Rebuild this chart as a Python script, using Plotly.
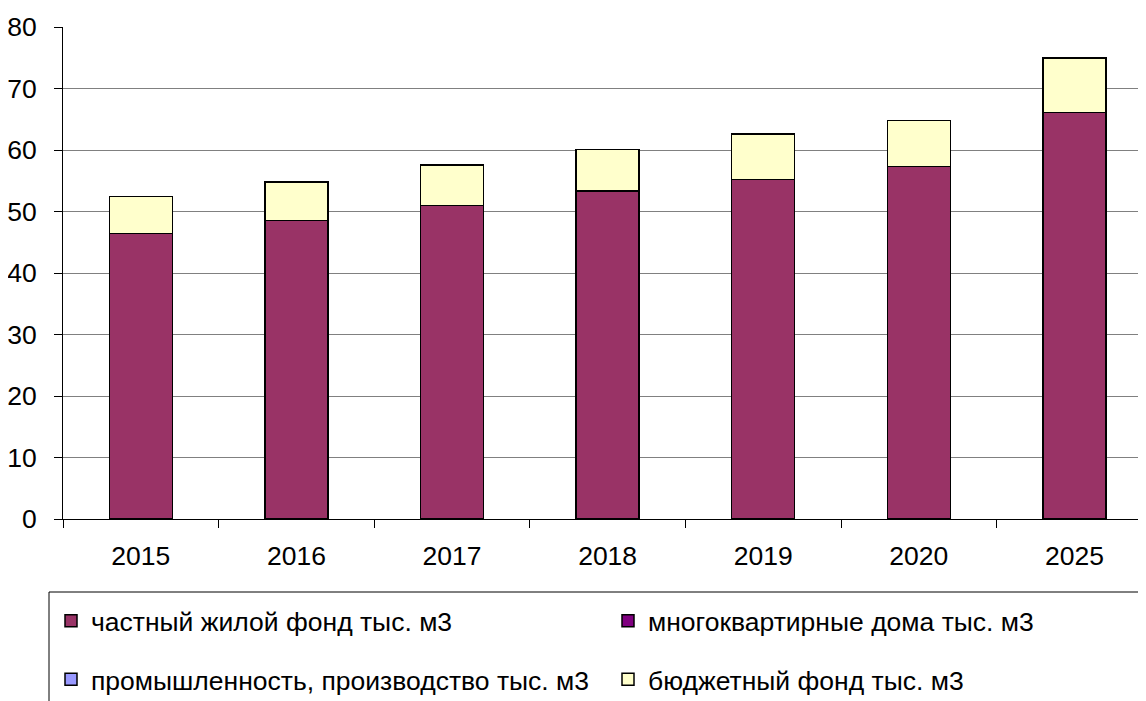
import plotly.graph_objects as go

years = ["2015", "2016", "2017", "2018", "2019", "2020", "2025"]
private_housing = [46.4, 48.5, 51.0, 53.3, 55.2, 57.3, 66.1]
apartment_buildings = [0, 0, 0, 0, 0, 0, 0]
industry = [0, 0, 0, 0, 0, 0, 0]
budget_fund = [6.0, 6.3, 6.6, 6.8, 7.4, 7.5, 8.9]

names = [
    "частный жилой фонд тыс. м3",
    "многоквартирные дома тыс. м3",
    "промышленность, производство тыс. м3",
    "бюджетный фонд тыс. м3",
]
colors = ["#993366", "#800080", "#9999FF", "#FFFFCC"]
series = [private_housing, apartment_buildings, industry, budget_fund]
legend_ids = ["legend", "legend2", "legend3", "legend4"]

FONT = "Liberation Sans, Arial, sans-serif"
FS = 26.5

fig = go.Figure()
for name, vals, col, lg in zip(names, series, colors, legend_ids):
    fig.add_trace(go.Bar(
        x=years, y=vals, name=name,
        marker=dict(color=col, line=dict(color="black", width=1.5)),
        legend=lg, showlegend=True,
    ))

# page has an 8px body margin; work in page pixel coordinates
OFF = 8
W, H = 1146 - OFF, 701 - OFF
L, R, T = 63 - OFF, 0, 27 - OFF
PLOT_BOTTOM = 519 - OFF
B = H - PLOT_BOTTOM
pw = W - L - R
ph = H - T - B

def px_x(p):
    return (p - OFF - L) / pw

def px_y(p):
    return (PLOT_BOTTOM - (p - OFF)) / ph

# legend cell positions (page pixels): left edge, vertical centre
legend_pos = [(51, 621), (608, 621), (51, 679.5), (608, 679.5)]

legend_layout = {}
for lg, (lx, ly) in zip(legend_ids, legend_pos):
    legend_layout[lg] = dict(
        orientation="h", x=px_x(lx), xanchor="left",
        y=px_y(ly), yanchor="middle", visible=True,
        bgcolor="rgba(0,0,0,0)", font=dict(size=FS),
    )

fig.update_layout(
    width=W, height=H,
    showlegend=True,
    margin=dict(l=L, r=R, t=T, b=B, autoexpand=False),
    barmode="stack",
    bargap=0.595,
    plot_bgcolor="white",
    paper_bgcolor="white",
    font=dict(family=FONT, size=FS, color="black"),
    xaxis=dict(
        range=[-0.5, 6.46],
        showline=True, linecolor="black", linewidth=1,
        ticks="outside", tickson="boundaries", ticklen=8, tickcolor="black",
        showgrid=False,
        tickfont=dict(size=FS),
        ticklabelstandoff=13,
    ),
    yaxis=dict(
        range=[0, 80], dtick=10,
        showline=True, linecolor="black", linewidth=1,
        ticks="outside", ticklen=8, tickcolor="black",
        showgrid=True, gridcolor="#808080", gridwidth=1,
        zeroline=False,
        tickfont=dict(size=FS),
        ticklabelstandoff=12,
    ),
    shapes=[dict(
        type="rect", xref="paper", yref="paper",
        x0=px_x(49), x1=1.3, y0=-0.6, y1=px_y(592),
        line=dict(color="black", width=1), fillcolor="rgba(0,0,0,0)",
    )],
    **legend_layout,
)

fig.write_html("out.html")
